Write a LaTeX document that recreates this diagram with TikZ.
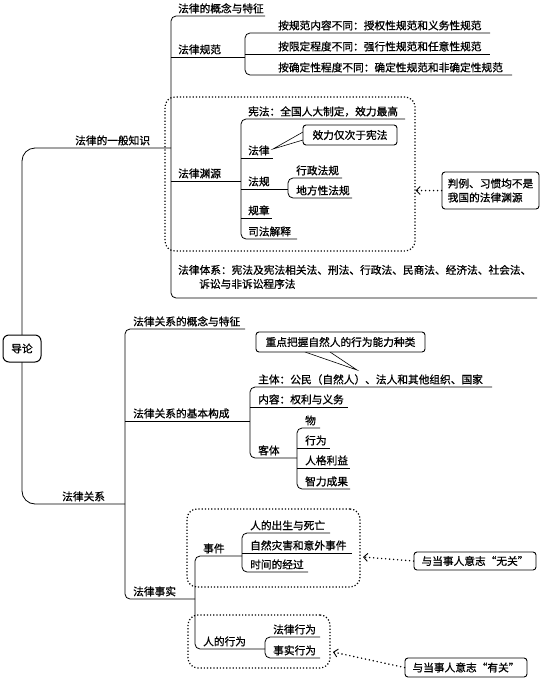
\documentclass[tikz,border=0pt]{standalone}
\usepackage{fontspec}
\newfontfamily\cn[FakeBold=0.9]{Noto Sans CJK SC}
\usetikzlibrary{arrows.meta}
\newcommand\cnfont{\cn\fontsize{10.7}{14}\selectfont}

\tikzset{
  txt/.style={anchor=base west, inner sep=0pt, font=\cnfont},
  ln/.style={line width=0.8pt, rounded corners=5pt},
  trunk/.style={line width=0.8pt, rounded corners=13pt},
  dotbox/.style={draw, dotted, line width=1.2pt, rounded corners=10pt, inner sep=0pt},
  note/.style={draw, line width=0.9pt, rounded corners=3pt, fill=white, inner sep=0pt, font=\cnfont},
  wedge/.style={line width=0.6pt},
  dotarrow/.style={line width=1.6pt, line cap=round, dash pattern=on 0pt off 4pt, -{Straight Barb[length=4pt,width=8pt,line width=0.9pt]}},
}

\begin{document}
\begin{tikzpicture}[x=1pt,y=-1pt]
\useasboundingbox (0,0) rectangle (543,689);

% dotted groups
\node[dotbox, minimum width=250, minimum height=154] (srcbox) at (290,174) {};
\node[dotbox, minimum width=173, minimum height=78] (eventbox) at (273.5,548) {};
\node[dotbox, minimum width=142, minimum height=53] (actbox) at (259,641.5) {};

% trunk
\draw[trunk] (171,148) -- (22,148) -- (22,504) -- (125,504);
\node[note, line width=1pt, rounded corners=6pt, minimum width=38, minimum height=27] (root) at (22,348.5) {导论};

% section 1: brackets
\draw[ln] (265,16) -- (171,16) -- (171,298) -- (537,298);
\draw[ln] (171,57) -- (245,57);
\draw[ln] (171,181) -- (241,181);
\draw[ln] (490,33) -- (245,33) -- (245,75) -- (512,75);
\draw[ln] (245,54) -- (490,54);
\draw[ln] (405,119) -- (241,119) -- (241,239) -- (297,239);
\draw[ln] (241,158) -- (273,158);
\draw[ln] (241,189) -- (288,189);
\draw[ln] (241,218) -- (272,218);
\draw[ln] (342,178) -- (288,178) -- (288,198) -- (352,198);

% section 1: texts
\node[txt] (gyzs) at (75,144.5) {法律的一般知识};
\node[txt] (gntz) at (178,12.5) {法律的概念与特征};
\node[txt] (flgf) at (178,53.5) {法律规范};
\node[txt] (gf1) at (278,29.5) {按规范内容不同：授权性规范和义务性规范};
\node[txt] (gf2) at (278,50.5) {按限定程度不同：强行性规范和任意性规范};
\node[txt] (gf3) at (278,71.5) {按确定性程度不同：确定性规范和非确定性规范};
\node[txt] (flyy) at (178,177.5) {法律渊源};
\node[txt] (xf) at (248,115.5) {宪法：全国人大制定，效力最高};
\node[txt] (fl) at (248,154.5) {法律};
\node[txt] (fg) at (248,185.5) {法规};
\node[txt] (xzfg) at (296,174.5) {行政法规};
\node[txt] (dffg) at (296,194.5) {地方性法规};
\node[txt] (gz) at (248,214.5) {规章};
\node[txt] (sfjs) at (248,235.5) {司法解释};
\node[txt] (fltx) at (178,274) {法律体系：宪法及宪法相关法、刑法、行政法、民商法、经济法、社会法、};
\node[txt] (fltx2) at (199,288) {诉讼与非诉讼程序法};

% section 1: notes
\coordinate (tipfl) at (273,149);
\draw[wedge] (303,132) -- (tipfl) -- (303,140);
\node[note, minimum width=94, minimum height=20] (note1) at (350,135) {效力仅次于宪法};
\node[note, minimum width=97, minimum height=37, align=left] (note2) at (490.5,190.5) {判例、习惯均不是\\我国的法律渊源};
\draw[dotarrow] (note2.west) -- (srcbox.east |- note2.west);

% section 2: brackets
\draw[ln] (245,329) -- (125,329) -- (125,599) -- (195,599);
\draw[ln] (125,421) -- (250,421);
\draw[ln] (492,387) -- (250,387) -- (250,458) -- (297,458);
\draw[ln] (250,407) -- (348,407);
\draw[ln] (320,428) -- (297,428) -- (297,489) -- (350,489);
\draw[ln] (297,448) -- (330,448);
\draw[ln] (297,468) -- (350,468);
\draw[ln] (242,556) -- (195,556) -- (195,649) -- (265,649);
\draw[ln] (330,533) -- (242,533) -- (242,572) -- (308,572);
\draw[ln] (242,553) -- (352,553);
\draw[ln] (320,637) -- (265,637) -- (265,658) -- (320,658);

% section 2: texts
\node[txt] (flgx) at (62,500.5) {法律关系};
\node[txt] (gxtz) at (133,325.5) {法律关系的概念与特征};
\node[txt] (jbgc) at (133,417.5) {法律关系的基本构成};
\node[txt] (zt) at (258,383.5) {主体：公民（自然人）、法人和其他组织、国家};
\node[txt] (nr) at (258,403.5) {内容：权利与义务};
\node[txt] (kt) at (258,454.5) {客体};
\node[txt] (wu) at (305,424.5) {物};
\node[txt] (xw) at (305,444.5) {行为};
\node[txt] (rgly) at (305,464.5) {人格利益};
\node[txt] (zlcg) at (305,485.5) {智力成果};
\node[txt] (flss) at (133,595.5) {法律事实};
\node[txt] (sj) at (203,552.5) {事件};
\node[txt] (csyw) at (250,529.5) {人的出生与死亡};
\node[txt] (zrzh) at (250,549.5) {自然灾害和意外事件};
\node[txt] (sjjg) at (250,568.5) {时间的经过};
\node[txt] (rdxw) at (203,645.5) {人的行为};
\node[txt] (flxw) at (273,633.5) {法律行为};
\node[txt] (ssxw) at (273,654.5) {事实行为};

% section 2: notes
\coordinate (tipzt) at (357,370);
\draw[wedge] (305,352) -- (tipzt) -- (330,352);
\node[note, minimum width=169, minimum height=20] (note3) at (340.5,342) {重点把握自然人的行为能力种类};
\node[note, minimum width=122, minimum height=18] (note4) at (475,561) {与当事人意志“无关”};
\node[note, minimum width=122, minimum height=19] (note5) at (466,667.5) {与当事人意志“有关”};
\coordinate (tipA) at (363,557);
\coordinate (tipB) at (333,652);
\draw[dotarrow] (note4.west) -- (tipA);
\draw[dotarrow] (note5.west) -- (tipB);

\end{tikzpicture}
\end{document}
